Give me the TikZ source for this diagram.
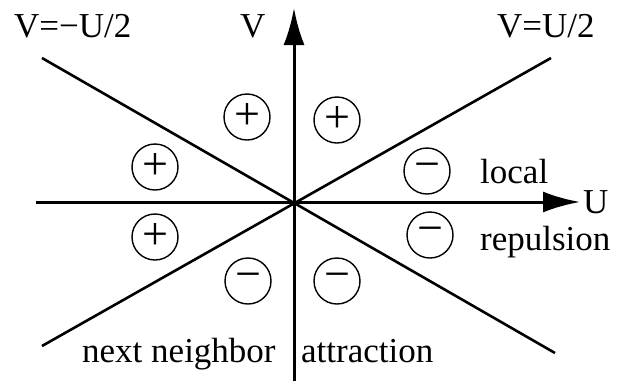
\documentclass[tikz,border=0pt]{standalone}
\usepackage{fontspec}
\setmainfont{Liberation Serif}
\usetikzlibrary{arrows.meta}
\begin{document}
\begin{tikzpicture}[x=1pt,y=-1pt,
  axis/.style={line width=3pt,-{Latex[length=37pt,width=21pt]}},
  ray/.style={line width=2.6pt},
  sgn/.style={circle,draw,line width=1.4pt,minimum size=46pt,inner sep=0pt,font=\fontsize{46}{46}\selectfont},
  lbl/.style={inner sep=0pt,anchor=base west,font=\fontsize{35}{35}\selectfont}]
\useasboundingbox (0,0) rectangle (619,381);
\coordinate (O) at (294,202);
\coordinate (AL) at (42,58);
\coordinate (AR) at (555,353);
\coordinate (BR) at (551,58);
\coordinate (BL) at (42,346);
\coordinate (Vb) at (294,381);
\coordinate (Vt) at (294,8);
\coordinate (Ul) at (36,202);
\coordinate (Ur) at (580,202);
\draw[ray] (AL) -- (AR);
\draw[ray] (BL) -- (BR);
\draw[axis] (Vb) -- (Vt);
\draw[axis] (Ul) -- (Ur);
\node[sgn] (p1) at (247,117) {+};
\node[sgn] (p2) at (337,120) {+};
\node[sgn] (p3) at (155,167) {+};
\node[sgn] (p4) at (155,237) {+};
\node[sgn] (m1) at (427,171) {−};
\node[sgn] (m2) at (430,235) {−};
\node[sgn] (m3) at (248,281) {−};
\node[sgn] (m4) at (337,281) {−};
\node[lbl] (t1) at (14,37) {V=−U/2};
\node[lbl] (t2) at (240,37) {V};
\node[lbl] (t3) at (497,37) {V=U/2};
\node[lbl] (t4) at (480,183) {local};
\node[lbl] (t5) at (583,213) {U};
\node[lbl] (t6) at (480,250) {repulsion};
\node[lbl] (t7) at (82,362) {next neighbor};
\node[lbl] (t8) at (301,362) {attraction};
\end{tikzpicture}
\end{document}
